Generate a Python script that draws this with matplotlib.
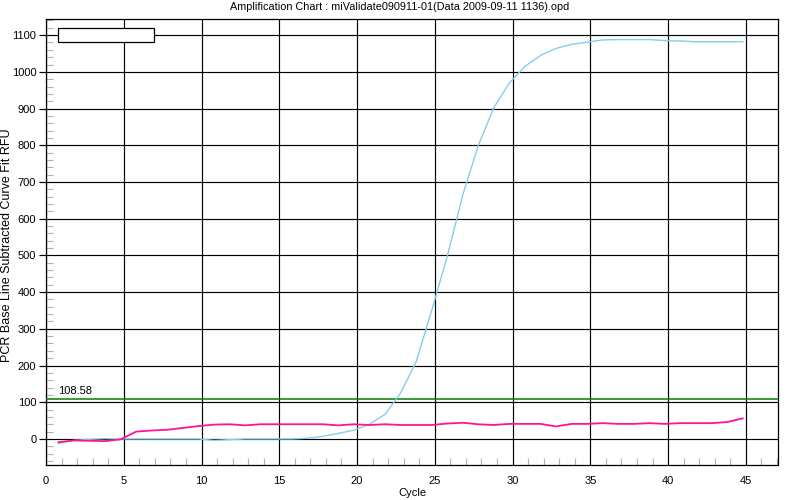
import numpy as np
import matplotlib
matplotlib.use("Agg")
import matplotlib.pyplot as plt
from matplotlib.patches import Rectangle
from matplotlib.ticker import MultipleLocator

plt.rcParams['font.family'] = ['Liberation Sans', 'DejaVu Sans']

# cycle positions as drawn by the instrument software (offset -0.2)
cycles = np.arange(1, 46) - 0.2

blue_rfu = [-12, -4, -1, 1, 0, 0, 0, 0, 0, 0,
            -4, -2, 0, 0, 0, 0, 2, 7, 15, 24,
            40, 67, 125, 210, 350, 497, 665, 800, 903, 970,
            1015, 1045, 1064, 1075, 1081, 1087, 1088, 1088, 1088, 1085,
            1084, 1082, 1082, 1082, 1082]

pink_rfu = [-9, -4, -5, -6, -1, 20, 23, 25, 30, 35,
            39, 40, 37, 40, 40, 40, 40, 40, 37, 40,
            38, 40, 38, 38, 38, 42, 44, 40, 38, 41,
            41, 41, 34, 41, 41, 43, 41, 41, 43, 41,
            43, 43, 43, 46, 56]

threshold = 108.58
title = "Amplification Chart : miValidate090911-01(Data 2009-09-11 1136).opd"

fig = plt.figure(figsize=(8, 5), dpi=100)
ax = fig.add_axes([0.0575, 0.07, 0.915, 0.892])

ax.plot(cycles, blue_rfu, color='#87CEEB', lw=1.0, zorder=4)
ax.plot(cycles, pink_rfu, color='#FF1493', lw=1.3, zorder=5)
ax.axhline(threshold, color='#008000', lw=1.1, zorder=3)
ax.text(0.8, threshold + 8, f"{threshold:.2f}", fontsize=8, va='bottom', ha='left')

ax.set_xlim(0, 47.07)
ax.set_ylim(-71, 1144)

ax.xaxis.set_major_locator(MultipleLocator(5))
ax.xaxis.set_minor_locator(MultipleLocator(1))
ax.yaxis.set_major_locator(MultipleLocator(100))
ax.yaxis.set_minor_locator(MultipleLocator(20))

ax.grid(True, which='major', color='black', lw=0.85, zorder=1)
ax.set_axisbelow(True)

ax.tick_params(axis='x', which='major', length=0, pad=8, labelsize=8)
ax.tick_params(axis='x', which='minor', direction='in', length=5, color='#b0b0b0', width=0.8)
ax.tick_params(axis='y', which='major', direction='out', length=5, width=0.85, labelsize=8, pad=2)
ax.tick_params(axis='y', which='minor', direction='in', length=5, color='#b0b0b0', width=0.8)
ax.tick_params(top=False, right=False, which='both')

for s in ax.spines.values():
    s.set_linewidth(0.9)
    s.set_color('black')

# empty legend box
ax.add_patch(Rectangle((0.0164, 0.948), 0.131, 0.032, transform=ax.transAxes,
                       facecolor='white', edgecolor='black', lw=0.9, zorder=6))

fig.text(0.515, 0.014, "Cycle", ha='center', va='center', fontsize=8)
fig.text(0.009, 0.51, "PCR Base Line Subtracted Curve Fit RFU", rotation=90,
         ha='center', va='center', fontsize=9)
fig.text(0.499, 0.986, title, ha='center', va='center', fontsize=7.8)

fig.savefig("out.png", dpi=100)
